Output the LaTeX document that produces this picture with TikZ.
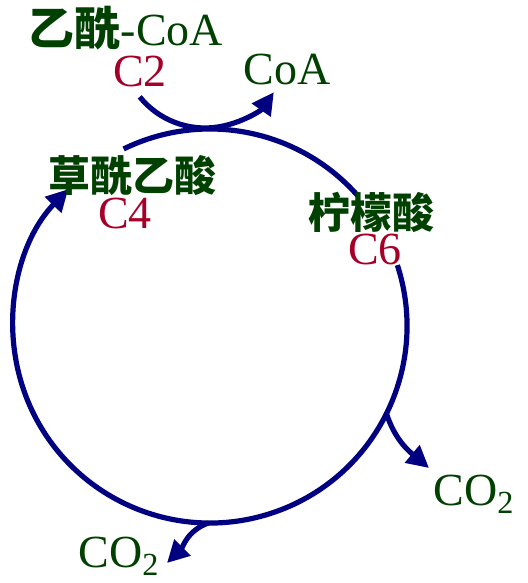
\documentclass[tikz,border=0pt]{standalone}
\usepackage{fontspec}
\setmainfont{Liberation Serif}
\newfontfamily\cjk{Noto Sans CJK SC}
\newcommand\acidfont{\cjk\bfseries}
\definecolor{LabelGreen}{RGB}{0,64,0}
\definecolor{CarbonRed}{RGB}{165,0,40}
\definecolor{CycleBlue}{RGB}{0,0,128}
\usetikzlibrary{arrows.meta,positioning,calc}

\begin{document}
\begin{tikzpicture}[x=0.5pt,y=0.5pt,
  flow/.style={CycleBlue,line width=2.6pt},
  flowarrow/.style={flow,-{Triangle[length=11pt,width=11pt]}},
  every node/.style={inner sep=0pt},
  acid/.style={LabelGreen,font=\fontsize{21}{23}\selectfont\acidfont},
  carbon/.style={CarbonRed,font=\fontsize{23}{25}\selectfont},
  gas/.style={LabelGreen,font=\fontsize{23}{25}\selectfont}]
\useasboundingbox (0,0) rectangle (528,583);
\coordinate (O) at (210,257);
% Cycle
\coordinate (oaaend) at ($(O)+(116:197)$);
\coordinate (citstart) at ($(O)+(18:197)$);
\draw[flow] (oaaend) arc[start angle=116,end angle=41.5,radius=197];
\draw[flowarrow] (citstart) arc[start angle=18,end angle=-224,radius=197];
% Acetyl-CoA in, CoA out
\coordinate (c2in) at ($(205,539)+(-141:84)$);
\draw[flowarrow] (c2in) arc[start angle=-141,end angle=-35,radius=84];
% CO2 out
\coordinate (decarbA) at ($(O)+(-26.4:197)$);
\coordinate (tipA) at (429,115);
\draw[flowarrow] (decarbA) to[out=-72,in=140] (tipA);
\coordinate (decarbB) at ($(O)+(-90.5:197)$);
\coordinate (tipB) at (167,20);
\draw[flowarrow] (decarbB) to[out=-160,in=45] (tipB);
% Labels
\node[gas] (acetyl) at (126,555) {{\acidfont 乙酰}-CoA};
\node[carbon] (c2) at (140,511) {C2};
\node[gas] (coa) at (287,513) {CoA};
\node[acid] (oaa) at (132,407) {草酰乙酸};
\node[carbon] (c4) at (125,369) {C4};
\node[acid] (citrate) at (371,371) {柠檬酸};
\node[carbon] (c6) at (375,333) {C6};
\node[gas,anchor=base west] (co2a) at (433,77) {CO\textsubscript{2}};
\node[gas,anchor=base west] (co2b) at (78,15) {CO\textsubscript{2}};
\end{tikzpicture}
\end{document}
